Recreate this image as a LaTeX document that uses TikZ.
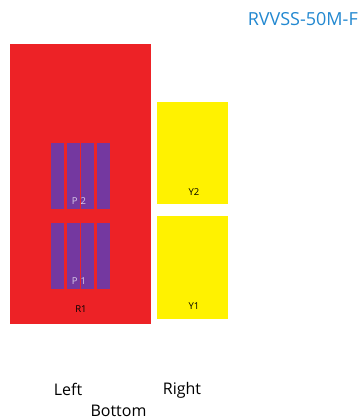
\documentclass[tikz,border=0pt]{standalone}
\usepackage{fontspec}
\setmainfont{Open Sans}
\definecolor{rred}{HTML}{ED2226}
\definecolor{ryel}{HTML}{FFF200}
\definecolor{rpur}{HTML}{7438A0}
\definecolor{rlab}{HTML}{D8CCE8}
\definecolor{rblue}{HTML}{2288D0}
\tikzset{
  small/.style={inner sep=0pt, anchor=base, font=\fontsize{9.5}{10}\selectfont},
  big/.style={inner sep=0pt, anchor=base, font=\fontsize{16}{18}\selectfont},
}
\begin{document}
\begin{tikzpicture}[x=1pt,y=-1pt]
\useasboundingbox (0,0) rectangle (359,420);
% red
\fill[rred] (10,44) rectangle (151,324);
\node[small] (r1) at (81,312) {R1};
% purple bars
\foreach \a/\b [count=\i] in {51/64,67/80,81/94,97/110}{
  \fill[rpur] (\a,143) rectangle (\b,209);
  \fill[rpur] (\a,223) rectangle (\b,289);
}
\node[small, text=rlab] (p2) at (79,204) {P\,\,2};
\node[small, text=rlab] (p1) at (79,284) {P\,\,1};
% yellow
\fill[ryel] (157,102) rectangle (228,204);
\fill[ryel] (157,216) rectangle (228,319);
\node[small] (y2) at (194,195) {Y2};
\node[small] (y1) at (194,309) {Y1};
% title
\node[inner sep=0pt, anchor=base east, text=rblue, font=\fontsize{18}{20}\selectfont] (title) at (358,26) {RVVSS-50M-F};
% side labels
\node[big] (left) at (68,395) {Left};
\node[big] (right) at (182,394) {Right};
\node[big] (bottom) at (118.5,416.5) {Bottom};
\end{tikzpicture}
\end{document}
